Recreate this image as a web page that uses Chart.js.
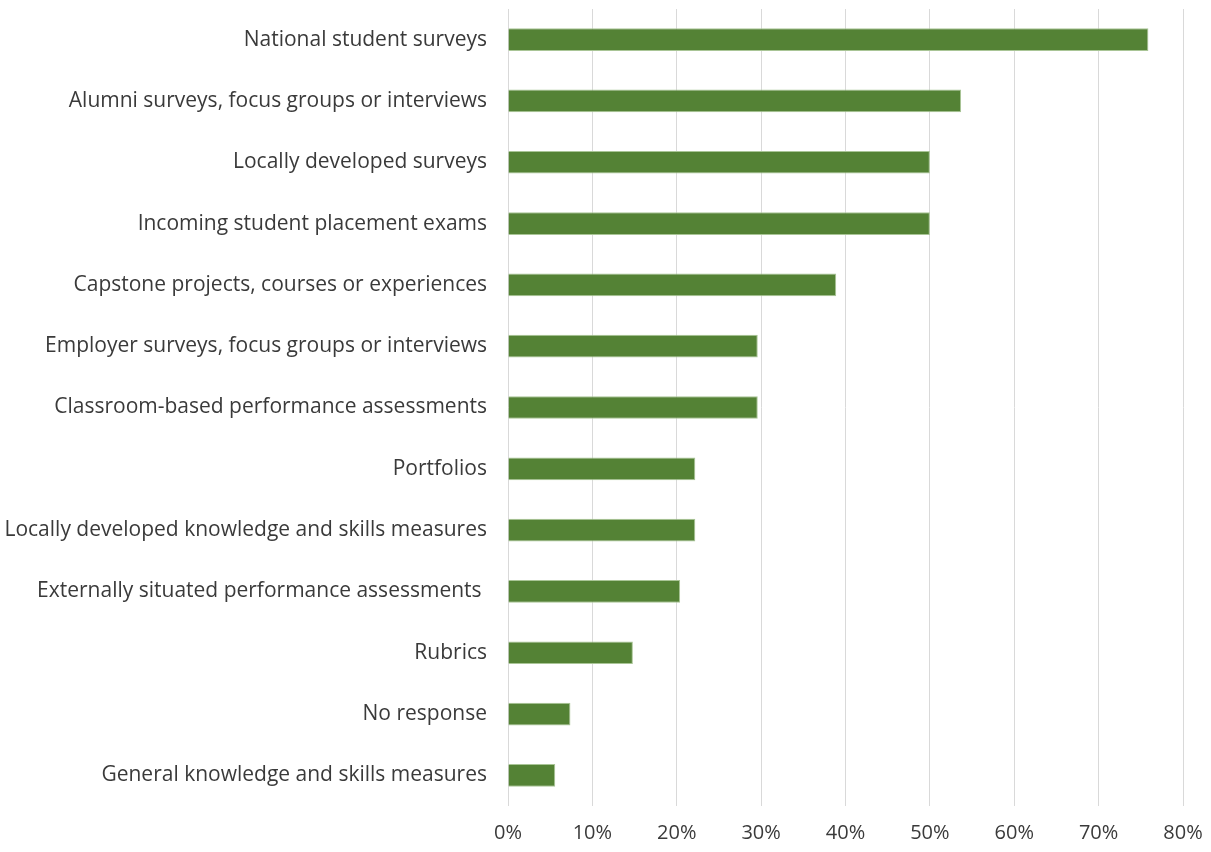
<!DOCTYPE html>
<html lang="en">
<head>
  <meta charset="UTF-8" />
  <title>Assessment methods</title>
  <script src="https://cdn.jsdelivr.net/npm/chart.js"></script>
  <style>
    body {
      margin: 0;
      background: #ffffff;
    }
    #wrap {
      width: 1211px;
      height: 852px;
    }
  </style>
</head>
<body>
  <div id="wrap">
    <canvas id="chart" width="1211" height="852"></canvas>
  </div>

  <script>
    const categories = [
      'National student surveys',
      'Alumni surveys, focus groups or interviews',
      'Locally developed surveys',
      'Incoming student placement exams',
      'Capstone projects, courses or experiences',
      'Employer surveys, focus groups or interviews',
      'Classroom-based performance assessments',
      'Portfolios',
      'Locally developed knowledge and skills measures',
      'Externally situated performance assessments ',
      'Rubrics',
      'No response',
      'General knowledge and skills measures'
    ];
    // share of respondents, in percent
    const shares = [75.9, 53.7, 50.0, 50.0, 38.9, 29.6, 29.6, 22.2, 22.2, 20.4, 14.8, 7.4, 5.6];
    const tickValues = [0, 10, 20, 30, 40, 50, 60, 70, 80];

    const fontFamily = "'Open Sans', 'Liberation Sans', sans-serif";
    const textColor = '#3a3a3a';

    const ctx = document.getElementById('chart').getContext('2d');

    new Chart(ctx, {
      type: 'bar',
      data: {
        labels: categories,
        datasets: [{
          data: shares,
          backgroundColor: '#548235',
          borderColor: '#a9c596',
          borderWidth: 1,
          barPercentage: 0.37,
          categoryPercentage: 1
        }]
      },
      options: {
        indexAxis: 'y',
        responsive: false,
        animation: false,
        layout: {
          padding: { top: 9, right: 28, bottom: 0, left: 0 }
        },
        plugins: {
          legend: { display: false },
          tooltip: { enabled: false }
        },
        scales: {
          x: {
            min: 0,
            max: 80,
            afterBuildTicks: (scale) => {
              scale.ticks = tickValues.map(v => ({ value: v }));
            },
            afterFit: (scale) => {
              scale.height = 46;
              scale.paddingLeft = 0;
              scale.paddingRight = 0;
            },
            grid: {
              color: '#d9d9d9',
              lineWidth: 1,
              drawTicks: false
            },
            border: { display: false },
            ticks: {
              padding: 15,
              color: textColor,
              font: { family: fontFamily, size: 20 },
              callback: (v) => v + '%'
            }
          },
          y: {
            afterFit: (scale) => {
              scale.width = 508;
              scale.paddingTop = 0;
              scale.paddingBottom = 0;
            },
            grid: { display: false, drawTicks: false },
            border: { display: false },
            ticks: {
              padding: 21,
              color: textColor,
              font: { family: fontFamily, size: 21 }
            }
          }
        }
      }
    });
  </script>
</body>
</html>
